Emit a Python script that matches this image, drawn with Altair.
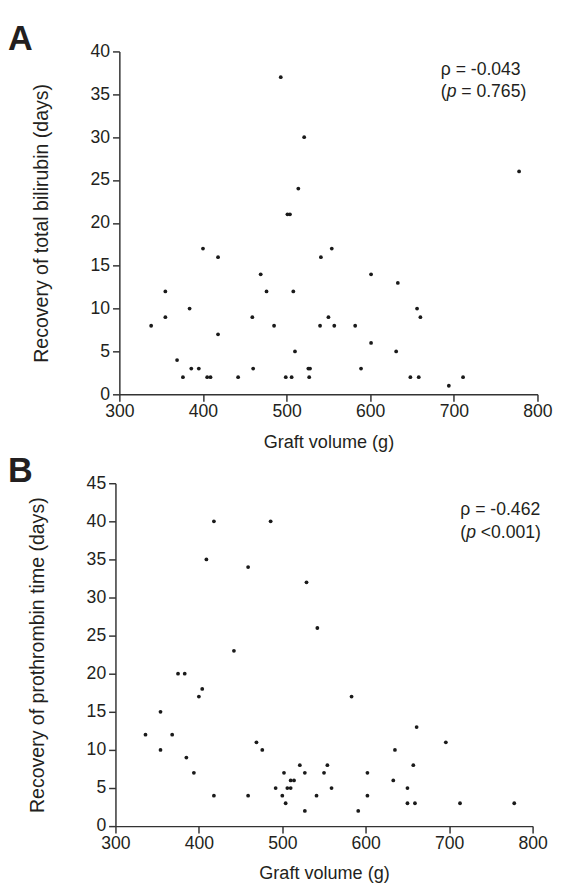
import altair as alt
import pandas as pd

# Panel A: graft volume (g) vs recovery of total bilirubin (days)
gv_a = [338, 355, 355, 369, 376, 384, 386, 395, 400, 405, 409, 418, 418, 442, 459,
        460, 469, 476, 485, 493, 499, 501, 504, 506, 508, 510, 514, 521, 526, 527,
        528, 540, 541, 550, 554, 557, 582, 589, 601, 601, 631, 633, 648, 656, 658,
        660, 694, 711, 778]
tb_a = [8, 12, 9, 4, 2, 10, 3, 3, 17, 2, 2, 16, 7, 2, 9,
        3, 14, 12, 8, 37, 2, 21, 21, 2, 12, 5, 24, 30, 3, 2,
        3, 8, 16, 9, 17, 8, 8, 3, 14, 6, 5, 13, 2, 10, 2,
        9, 1, 2, 26]

# Panel B: graft volume (g) vs recovery of prothrombin time (days)
gv_b = [336, 354, 354, 368, 375, 383, 385, 394, 400, 404, 409, 418, 418, 442, 459,
        459, 469, 476, 486, 492, 500, 502, 504, 506, 510, 510, 514, 521, 527, 527,
        529, 541, 542, 550, 554, 559, 583, 591, 602, 602, 633, 635, 650, 650, 657,
        659, 661, 696, 713, 778]
pt_b = [12, 15, 10, 12, 20, 20, 9, 7, 17, 18, 35, 40, 4, 23, 34,
        4, 11, 10, 40, 5, 4, 7, 3, 5, 5, 6, 6, 8, 7, 2,
        32, 4, 26, 7, 8, 5, 17, 2, 7, 4, 6, 10, 5, 3, 8,
        3, 13, 11, 3, 3]

x_ticks = [300, 400, 500, 600, 700, 800]
y_ticks_a = [0, 5, 10, 15, 20, 25, 30, 35, 40]
y_ticks_b = [0, 5, 10, 15, 20, 25, 30, 35, 40, 45]

ann_a = ["ρ = -0.043", "(", "p", "= 0.765)"]
ann_b = ["ρ = -0.462", "(", "p", "<0.001)"]

FONT = "Liberation Sans"
INK = "#231f20"


def axis_x():
    return alt.Axis(values=x_ticks, title="Graft volume (g)", grid=False,
                    labelFontSize=18, titleFontSize=18.5, titleFontWeight="normal",
                    labelFont=FONT, titleFont=FONT, labelColor=INK, titleColor=INK,
                    tickSize=7, tickWidth=1.5, tickColor="#333", domainColor="#333",
                    domainWidth=1.5, labelPadding=2, titlePadding=12, labelFlush=False)


def axis_y(title, ticks, offset):
    return alt.Axis(values=ticks, title=title, grid=False, offset=offset,
                    labelFontSize=18, titleFontSize=20, titleFontWeight="normal",
                    labelFont=FONT, titleFont=FONT, labelColor=INK, titleColor=INK,
                    tickSize=7, tickWidth=1.5, tickColor="#333", domainColor="#333",
                    domainWidth=1.5, labelPadding=3, titlePadding=40)


def text_layer(txt, x, y, size=18, style="normal", weight="normal"):
    return alt.Chart(pd.DataFrame({"t": [txt]})).mark_text(
        align="left", baseline="alphabetic", font=FONT, fontSize=size,
        fontStyle=style, fontWeight=weight, color=INK
    ).encode(text="t:N", x=alt.value(x), y=alt.value(y))


def panel(gv, yv, ycol, ytitle, ymax, yticks, letter, ann, ax, ay, shift, w, h):
    df = pd.DataFrame({"gv": gv, ycol: yv})
    pts = alt.Chart(df).mark_circle(size=15, color="#1a1a1a", opacity=1).encode(
        x=alt.X("gv:Q", scale=alt.Scale(domain=[300, 800], nice=False, zero=False,
                                        range=[-shift, w - shift]),
                axis=axis_x()),
        y=alt.Y(f"{ycol}:Q", scale=alt.Scale(domain=[0, ymax], nice=False),
                axis=axis_y(ytitle, yticks, shift)),
    )
    layers = [
        pts,
        text_layer(letter, -114, -1, size=35, weight="bold"),
        text_layer(ann[0], ax, ay),
        text_layer(ann[1], ax, ay + 23),
        text_layer(ann[2], ax + 6, ay + 23, style="italic"),
        text_layer(ann[3], ax + 21, ay + 23),
    ]
    return alt.layer(*layers).properties(width=w, height=h)


pa = panel(gv_a, tb_a, "tb", "Recovery of total bilirubin (days)", 40, y_ticks_a,
           "A", ann_a, 329, 24, 0, 428, 351)
pb = panel(gv_b, pt_b, "pt", "Recovery of prothrombin time (days)", 45, y_ticks_b,
           "B", ann_b, 349, 33, 4, 427, 351)

chart = alt.vconcat(pa, pb, spacing=4).properties(
    padding={"left": 0, "top": 5, "right": 5, "bottom": 0}
).configure_view(stroke=None)

chart.save("out.html", embed_options={"renderer": "svg", "actions": False})
